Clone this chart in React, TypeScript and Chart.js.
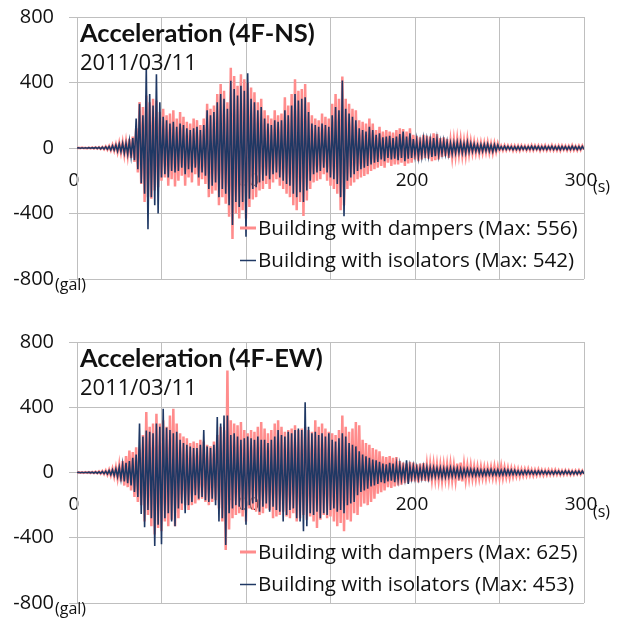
import React, { useEffect, useRef } from 'react';
import { Chart, registerables } from 'chart.js';

Chart.register(...registerables);

// ---------- data ----------
const STEP_S = 1; // seconds between samples
const X_TICK_LABELS = [0, 100, 200, 300];
const Y_TICKS = [-800, -400, 0, 400, 800];

const NS_TITLE = 'Acceleration (4F-NS)';
const EW_TITLE = 'Acceleration (4F-EW)';
const DATE_LABEL = '2011/03/11';
const NS_LEGEND = ['Building with dampers (Max: 556)', 'Building with isolators (Max: 542)'];
const EW_LEGEND = ['Building with dampers (Max: 625)', 'Building with isolators (Max: 453)'];

const NS_DAMPERS = [
  0, 1, -1, 2, -1, 1, -2, 2, -2, 3,
  -3, 4, -4, 5, -6, 6, -8, 9, -10, 12,
  -14, 18, -16, 22, -25, 30, -28, 35, -40, 38,
  -45, 55, -60, 70, -85, 120, -150, 280, -220, 250,
  -330, 320, -300, 280, -310, 300, -260, 290, -240, 220,
  -200, 240, -180, 200, -230, 210, -190, 230, -235, 180,
  -200, 220, -170, 190, -230, 160, -180, 150, -210, 180,
  -160, 170, -230, 140, -190, 180, -220, 270, -300, 240,
  -280, 260, -260, 330, -350, 390, -300, 350, -340, 280,
  -420, 490, -556, 440, -400, 380, -430, 450, -380, 420,
  -430, 400, -360, 370, -315, 340, -300, 280, -260, 300,
  -250, 230, -220, 200, -250, 180, -210, 230, -190, 200,
  -230, 210, -250, 310, -280, 260, -300, 330, -350, 420,
  -380, 350, -330, 360, -415, 390, -320, 280, -250, 200,
  -210, 180, -200, 170, -190, 210, -160, 190, -200, 180,
  -230, 270, -250, 330, -280, 300, -380, 436, -350, 300,
  -250, 270, -230, 240, -210, 230, -190, 170, -180, 160,
  -170, 150, -160, 180, -140, 150, -130, 110, -120, 130,
  -110, 100, -120, 110, -90, 100, -110, 95, -100, 110,
  -100, 120, -90, 115, -110, 100, -95, 120, -90, 80,
  -70, 75, -80, 65, -70, 80, -60, 75, -65, 70,
  -80, 90, -75, 85, -70, 60, -55, 65, -50, 55,
  -60, 45, -55, 50, -45, 55, -40, 50, -45, 40,
  -45, 50, -35, 40, -30, 35, -30, 28, -32, 30,
  -28, 30, -25, 32, -28, 25, -30, 27, -22, 25,
  -15, 12, -14, 15, -12, 14, -10, 13, -15, 12,
  -14, 12, -15, 13, -10, 12, -14, 11, -13, 15,
  -12, 14, -10, 13, -15, 12, -11, 14, -13, 10,
  -12, 15, -13, 11, -14, 12, -15, 13, -10, 12,
  -14, 11, -13, 15, -12, 10, -14, 12, -11, 13,
  -10,
];

const NS_ISOLATORS = [
  0, 1, -1, 1, -1, 1, -1, 2, -1, 2,
  -2, 3, -3, 4, -5, 5, -6, 7, -8, 10,
  -12, 14, -13, 18, -20, 24, -22, 28, -32, 30,
  -38, 45, -50, 60, -75, 180, -130, 270, -215, 200,
  -280, 490, -496, 330, -300, 260, -350, 450, -400, 280,
  -180, 190, -160, 170, -180, 150, -140, 160, -150, 130,
  -140, 150, -120, 140, -160, 120, -130, 110, -150, 120,
  -120, 130, -180, 110, -150, 140, -170, 230, -250, 200,
  -230, 220, -210, 280, -300, 330, -250, 300, -280, 240,
  -350, 410, -470, 360, -330, 320, -360, 380, -330, 350,
  -542, 456, -310, 300, -250, 280, -240, 230, -210, 250,
  -200, 180, -170, 150, -190, 140, -160, 170, -150, 160,
  -180, 170, -200, 230, -220, 200, -230, 260, -280, 330,
  -300, 290, -270, 300, -330, 310, -260, 220, -200, 150,
  -160, 140, -150, 130, -140, 150, -120, 140, -150, 130,
  -180, 200, -190, 250, -220, 230, -300, 412, -416, 240,
  -200, 210, -180, 190, -160, 170, -140, 120, -130, 110,
  -120, 100, -110, 130, -100, 110, -90, 80, -85, 90,
  -70, 65, -80, 70, -60, 75, -70, 60, -65, 70,
  -75, 85, -60, 100, -80, 70, -65, 90, -60, 55,
  -45, 50, -55, 40, -50, 55, -40, 50, -45, 48,
  -55, 60, -50, 55, -45, 40, -35, 45, -35, 38,
  -40, 30, -35, 32, -30, 35, -28, 33, -30, 28,
  -30, 35, -25, 28, -22, 25, -20, 20, -24, 22,
  -20, 22, -18, 24, -20, 18, -22, 20, -16, 18,
  -10, 8, -10, 11, -9, 10, -8, 9, -11, 8,
  -10, 9, -11, 10, -8, 9, -10, 8, -9, 11,
  -9, 10, -8, 10, -11, 9, -8, 10, -10, 8,
  -9, 11, -10, 8, -10, 9, -11, 10, -8, 9,
  -10, 8, -10, 11, -9, 8, -10, 9, -8, 10,
  -8,
];

const EW_DAMPERS = [
  0, 1, -1, 1, -2, 2, -2, 2, -3, 3,
  -4, 5, -5, 6, -7, 8, -10, 12, -14, 16,
  -18, 22, -25, 30, -35, 45, -55, 70, -80, 100,
  -90, 135, -110, 125, -150, 155, -180, 140, -200, 230,
  -300, 370, -260, 280, -330, 300, -380, 360, -340, 300,
  -360, 320, -300, 280, -330, 350, -290, 390, -330, 300,
  -280, 240, -230, 220, -200, 210, -230, 180, -200, 190,
  -190, 180, -170, 200, -160, 190, -180, 170, -200, 160,
  -180, 190, -170, 230, -220, 280, -300, 260, -475, 625,
  -350, 320, -280, 300, -260, 290, -250, 310, -270, 260,
  -300, 240, -220, 260, -230, 250, -240, 280, -260, 310,
  -250, 270, -220, 240, -230, 260, -280, 300, -270, 320,
  -260, 280, -240, 250, -270, 260, -280, 270, -250, 290,
  -300, 260, -280, 270, -260, 280, -290, 260, -270, 250,
  -300, 320, -340, 280, -290, 300, -260, 270, -280, 250,
  -270, 240, -300, 230, -330, 260, -310, 350, -360, 280,
  -290, 250, -300, 270, -250, 310, -260, 290, -210, 200,
  -190, 180, -200, 170, -180, 150, -160, 140, -130, 130,
  -120, 100, -110, 95, -90, 100, -95, 90, -85, 95,
  -80, 70, -75, 60, -65, 55, -60, 65, -55, 60,
  -55, 50, -60, 55, -50, 58, -52, 48, -55, 50,
  -45, 50, -42, 48, -46, 44, -50, 45, -40, 48,
  -44, 50, -46, 42, -48, 55, -50, 60, -55, 48,
  -45, 40, -38, 42, -36, 35, -40, 33, -36, 34,
  -32, 30, -35, 30, -28, 32, -30, 36, -33, 30,
  -34, 37, -32, 30, -28, 26, -30, 24, -25, 22,
  -22, 20, -24, 18, -20, 19, -18, 20, -17, 16,
  -18, 15, -16, 17, -15, 14, -16, 13, -14, 15,
  -13, 14, -12, 15, -13, 12, -14, 11, -13, 12,
  -12, 11, -13, 10, -12, 11, -10, 12, -11, 10,
  -10,
];

const EW_ISOLATORS = [
  0, 1, -1, 1, -1, 1, -1, 2, -2, 2,
  -3, 3, -4, 4, -5, 6, -7, 8, -10, 12,
  -14, 16, -18, 22, -26, 32, -40, 50, -55, 60,
  -65, 70, -80, 90, -120, 110, -150, 300, -255, 220,
  -335, 258, -230, 250, -280, 240, -450, 300, -320, 280,
  -440, 390, -280, 275, -250, 260, -300, 240, -330, 250,
  -220, 200, -190, 180, -250, 170, -200, 160, -180, 150,
  -140, 150, -160, 170, -150, 260, -170, 160, -180, 150,
  -160, 170, -200, 340, -300, 300, -280, 350, -445, 350,
  -250, 230, -220, 240, -200, 220, -210, 200, -230, 210,
  -320, 220, -200, 210, -190, 200, -180, 220, -240, 200,
  -210, 200, -190, 180, -240, 200, -210, 220, -230, 260,
  -240, 230, -300, 220, -260, 250, -230, 240, -220, 260,
  -280, 270, -300, 260, -360, 430, -330, 280, -250, 240,
  -260, 250, -240, 230, -280, 240, -250, 220, -260, 240,
  -230, 200, -220, 190, -240, 210, -230, 240, -250, 220,
  -200, 180, -190, 170, -180, 160, -140, 130, -120, 110,
  -110, 100, -100, 90, -85, 80, -80, 75, -70, 65,
  -60, 55, -65, 50, -55, 60, -50, 55, -60, 50,
  -45, 50, -40, 35, -40, 75, -70, 38, -35, 40,
  -35, 32, -38, 30, -34, 36, -30, 33, -35, 30,
  -28, 30, -26, 28, -25, 27, -30, 25, -28, 26,
  -25, 28, -24, 26, -22, 25, -27, 23, -25, 22,
  -20, 22, -18, 20, -19, 18, -20, 17, -18, 16,
  -18, 15, -17, 16, -15, 18, -16, 14, -15, 17,
  -16, 14, -15, 18, -14, 16, -13, 15, -12, 14,
  -12, 11, -13, 10, -11, 12, -10, 11, -9, 10,
  -10, 9, -11, 10, -9, 10, -8, 9, -10, 8,
  -9, 8, -10, 9, -8, 9, -10, 8, -9, 10,
  -8, 9, -10, 8, -9, 8, -10, 9, -8, 9,
  -8,
];

// ---------- styles ----------
const PINK = '#FF8C8C';
const NAVY = '#1F3864';
const GRID = '#BFBFBF';
const TXT = '#111111';
const SANS = '"Open Sans", "Noto Sans", sans-serif';

type PanelProps = {
  top: number;
  height: number;
  padTop: number;
  padBottom: number;
  title: string;
  legend: string[];
  dampers: number[];
  isolators: number[];
};

const overlayPlugin = {
  id: 'overlay',
  afterDraw(chart: any, _args: any, opts: any) {
    const { ctx, chartArea: a, scales } = chart;
    const xs = scales.x;
    const ys = scales.y;
    ctx.save();
    ctx.fillStyle = TXT;
    ctx.textAlign = 'left';
    ctx.textBaseline = 'alphabetic';
    // title & date
    ctx.font = 'bold 25.5px Lato, sans-serif';
    ctx.fillText(opts.title, a.left + 3, a.top + 25);
    ctx.font = '22px ' + SANS;
    ctx.fillText(opts.date, a.left + 3, a.top + 53);
    // units
    ctx.font = '16px ' + SANS;
    ctx.fillText('(s)', xs.getPixelForValue(300) + 9, ys.getPixelForValue(0) + 44);
    ctx.fillText('(gal)', a.left - 22, ys.getPixelForValue(-800) + 11);
    // legend
    const ds = chart.data.datasets;
    const rows = [ds[1], ds[0]];
    const rowY = [a.bottom - 51, a.bottom - 18.5];
    ctx.font = '20.6px ' + SANS;
    ctx.textBaseline = 'middle';
    rows.forEach((d: any, i: number) => {
      const yy = rowY[i];
      ctx.strokeStyle = d.borderColor;
      ctx.lineWidth = i === 0 ? 3 : 1.5;
      ctx.beginPath();
      ctx.moveTo(a.left + 163, yy);
      ctx.lineTo(a.left + 179, yy);
      ctx.stroke();
      ctx.fillStyle = TXT;
      ctx.fillText(d.label, a.left + 181, yy + 1);
    });
    ctx.restore();
  },
};

function Panel(props: PanelProps) {
  const ref = useRef<HTMLCanvasElement | null>(null);
  useEffect(() => {
    const canvas = ref.current;
    if (!canvas) return;
    const toPoints = (arr: number[]) => arr.map((v, i) => ({ x: i * STEP_S, y: v }));
    const chart = new Chart(canvas, {
      type: 'line',
      data: {
        datasets: [
          {
            label: props.legend[1],
            data: toPoints(props.isolators),
            borderColor: NAVY,
            borderWidth: 1.6,
            pointRadius: 0,
            tension: 0,
            fill: false,
          },
          {
            label: props.legend[0],
            data: toPoints(props.dampers),
            borderColor: PINK,
            borderWidth: 2.5,
            pointRadius: 0,
            tension: 0,
            fill: false,
          },
        ],
      },
      options: {
        responsive: false,
        animation: false,
        events: [],
        layout: { padding: { left: 8, right: 40, top: props.padTop, bottom: props.padBottom } },
        plugins: {
          legend: { display: false },
          tooltip: { enabled: false },
          title: { display: false },
          overlay: { title: props.title, date: DATE_LABEL },
        } as any,
        scales: {
          x: {
            type: 'linear',
            position: { y: 0 } as any,
            min: 0,
            max: 300,
            grid: { color: GRID, lineWidth: 1, drawTicks: false },
            border: { display: true, color: GRID },
            ticks: {
              stepSize: 50,
              autoSkip: false,
              maxRotation: 0,
              padding: 21,
              labelOffset: -3,
              color: TXT,
              font: { family: SANS, size: 19 },
              callback: (v: any) => (X_TICK_LABELS.includes(Number(v)) ? String(v) : ''),
            },
          },
          y: {
            type: 'linear',
            position: 'left',
            min: Y_TICKS[0],
            max: Y_TICKS[Y_TICKS.length - 1],
            afterFit: (s: any) => {
              s.width = 69;
              s.paddingTop = 10;
              s.paddingBottom = 10;
            },
            grid: { color: GRID, lineWidth: 1, drawTicks: true, tickLength: 8, tickColor: GRID },
            border: { display: true, color: GRID },
            ticks: {
              stepSize: 400,
              padding: 15,
              color: TXT,
              font: { family: SANS, size: 20 },
              callback: (v: any) => (Y_TICKS.includes(Number(v)) ? String(v) : ''),
            },
          },
        },
      },
      plugins: [overlayPlugin],
    } as any);
    return () => chart.destroy();
  }, []);
  return (
    <canvas
      ref={ref}
      width={624}
      height={props.height}
      style={{ position: 'absolute', left: 0, top: props.top, width: 624, height: props.height, display: 'block' }}
    />
  );
}

export default function App() {
  return (
    <div style={{ position: 'absolute', left: 0, top: 0, width: 624, height: 621, background: '#ffffff', overflow: 'hidden' }}>
      <Panel top={0} height={310} padTop={17} padBottom={31} title={NS_TITLE} legend={NS_LEGEND} dampers={NS_DAMPERS} isolators={NS_ISOLATORS} />
      <Panel top={310} height={311} padTop={32} padBottom={18} title={EW_TITLE} legend={EW_LEGEND} dampers={EW_DAMPERS} isolators={EW_ISOLATORS} />
    </div>
  );
}
